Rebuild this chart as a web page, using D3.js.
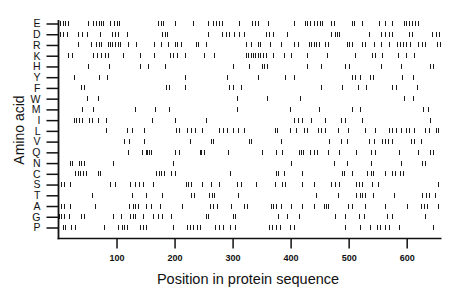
<!DOCTYPE html>
<html>
<head>
<meta charset="utf-8">
<script src="https://cdn.jsdelivr.net/npm/d3@7"></script>
<style>
  html, body { margin: 0; padding: 0; background: #fff; }
  svg { display: block; }
  text { font-family: "Liberation Sans", Arial, Helvetica, sans-serif; fill: #111; }
</style>
</head>
<body>
<svg id="chart" width="460" height="299"></svg>
<script>
// ---- data ----
const aminoAcids = ["E","D","R","K","H","Y","F","W","M","I","L","V","Q","N","C","S","T","A","G","P"];
const xTickValues = [100, 200, 300, 400, 500, 600];
const sequenceLength = 660;

const posE = [3,7,12,17,50,60,65,70,74,77,89,95,100,104,171,176,180,200,231,258,267,271,276,281,311,334,338,343,361,406,424,429,434,440,446,450,454,470,474,505,509,523,552,562,574,595,599,604,610,614,619];
const posD = [3,8,14,34,40,49,72,92,97,103,118,178,183,187,258,282,288,294,303,311,319,357,363,369,394,470,476,480,483,535,556,562,570,575,604,609,644,650,655];
const posR = [33,56,65,69,73,85,89,93,98,102,106,119,134,165,177,188,200,205,211,237,240,254,323,331,344,347,365,383,406,412,432,435,440,444,449,459,465,497,501,506,523,529,543,555,570,584,589,593,598,605,620,626,631,653,658];
const posK = [17,23,60,66,74,80,86,112,141,165,192,198,204,218,251,268,323,327,331,335,339,343,347,352,357,369,389,400,429,463,511,540,545,558,585,598,612];
const posH = [50,87,141,154,184,301,328,350,354,360,428,453,493,501,555,591,641,645];
const posY = [27,69,83,218,291,344,390,405,506,511,520,536,542,592,611];
const posF = [39,44,185,191,218,294,300,315,453,488,516,530,574,581,618];
const posW = [49,68,307,359,416,595,611];
const posM = [41,60,131,167,191,308,399,449,505,520,628,637];
const posI = [27,31,36,41,53,58,68,82,161,200,255,406,412,420,435,459,486,493,523,641];
const posL = [82,118,127,148,203,208,221,229,235,248,277,284,290,300,309,320,373,377,399,409,423,429,447,453,459,482,499,529,545,569,575,581,591,598,604,612,632,638,650,654];
const posV = [113,121,148,227,263,267,328,331,383,466,486,497,535,543,558,563,568,575,607,612,624];
const posQ = [119,144,150,153,156,160,200,208,243,246,250,292,351,374,386,415,418,422,434,440,446,465,484,513,538,546,587,620,641,645];
const posN = [20,23,35,39,44,94,198,401,474,497,538,591,627,631];
const posC = [29,33,37,42,47,68,72,168,173,177,181,194,200,296,374,378,388,420,488,492,505,532,538,542,563,574,580,588,593];
const posS = [4,10,19,89,98,123,132,138,146,162,219,223,228,248,262,277,308,314,340,373,386,390,419,440,470,476,483,512,518,523,540,551,654];
const posT = [58,127,151,178,228,234,259,265,268,309,443,482,513,519,523,529,542,578,627,634,639,649];
const posA = [4,10,19,63,122,128,132,137,150,159,175,213,261,267,273,297,319,324,366,369,375,383,401,420,440,457,461,465,499,505,528,562,601,625,630,635,654];
const posG = [1,4,10,18,39,44,94,108,123,128,132,146,162,171,178,194,254,258,300,304,378,394,415,477,493,518,526,566,575,631];
const posP = [7,12,21,29,79,103,110,113,118,140,145,150,197,221,227,232,238,244,270,276,283,296,304,362,368,375,382,399,405,494,520,537,549,554,563,569,586,646];

const positionsByAA = {E:posE,D:posD,R:posR,K:posK,H:posH,Y:posY,F:posF,W:posW,M:posM,I:posI,
  L:posL,V:posV,Q:posQ,N:posN,C:posC,S:posS,T:posT,A:posA,G:posG,P:posP};

// ---- layout ----
const svg = d3.select("#chart");
const plotLeft = 58.5, plotRight = 441.5, rowTop = 23.5, rowBottom = 227.5, axisY = 238.5;

const x = d3.scaleLinear().domain([0, sequenceLength]).range([plotLeft, plotRight]);
const y = d3.scalePoint().domain(aminoAcids).range([rowTop, rowBottom]);

// marks
const marks = [];
aminoAcids.forEach(aa => positionsByAA[aa].forEach(p => marks.push({aa, p})));
svg.append("g")
  .selectAll("line")
  .data(marks)
  .join("line")
  .attr("x1", d => Math.round(x(d.p)) + 0.5)
  .attr("x2", d => Math.round(x(d.p)) + 0.5)
  .attr("y1", d => y(d.aa) - 2.5)
  .attr("y2", d => y(d.aa) + 2.5)
  .attr("stroke", "#1a1a1a")
  .attr("stroke-width", 1)
  .attr("shape-rendering", "crispEdges");

// y axis
const yAxis = d3.axisLeft(y).tickSize(12).tickPadding(6);
const gy = svg.append("g").attr("transform", `translate(${plotLeft},0)`).call(yAxis);
gy.select(".domain").remove();
gy.selectAll(".tick line").attr("stroke", "#111").attr("stroke-width", 1.5);
gy.selectAll(".tick text").attr("font-size", 10.5).attr("fill", "#111")
  .attr("font-family", "Liberation Sans, Arial, sans-serif");

// x axis
const xAxis = d3.axisBottom(x).tickValues(xTickValues).tickSize(10).tickSizeOuter(0).tickPadding(6);
const gx = svg.append("g").attr("transform", `translate(0,${axisY})`).call(xAxis);
gx.select(".domain").remove();
gx.selectAll(".tick line").attr("stroke", "#111").attr("stroke-width", 1.5);
gx.selectAll(".tick text").attr("font-size", 9).attr("fill", "#111").attr("font-weight", "bold")
  .attr("font-family", "Liberation Sans, Arial, sans-serif");

// axis frame lines
svg.append("line").attr("x1", plotLeft).attr("x2", plotLeft).attr("y1", 20).attr("y2", axisY + 0.75)
  .attr("stroke", "#111").attr("stroke-width", 1.8);
svg.append("line").attr("x1", plotLeft - 0.9).attr("x2", plotRight).attr("y1", axisY).attr("y2", axisY)
  .attr("stroke", "#111").attr("stroke-width", 1.5);

// titles
svg.append("text").attr("x", 248).attr("y", 284).attr("text-anchor", "middle")
  .attr("font-size", 14.5).text("Position in protein sequence");
svg.append("text").attr("transform", "translate(24,130) rotate(-90)").attr("text-anchor", "middle")
  .attr("font-size", 14).text("Amino acid");
</script>
</body>
</html>
